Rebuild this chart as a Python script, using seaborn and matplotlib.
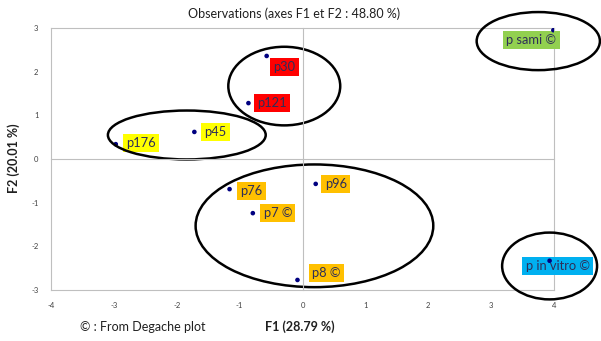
import matplotlib
matplotlib.use("Agg")
import matplotlib.pyplot as plt
from matplotlib.patches import Ellipse
import seaborn as sns
import pandas as pd

# PCA observation scores on the first two factors
names = ["p sami \u00a9", "p30", "p121", "p45", "p176", "p76", "p7 \u00a9", "p96", "p8 \u00a9", "p in vitro \u00a9"]
f1 = [3.99, -0.57, -0.86, -1.72, -2.97, -1.16, -0.79, 0.21, -0.08, 3.93]
f2 = [2.95, 2.36, 1.28, 0.62, 0.34, -0.69, -1.24, -0.57, -2.77, -2.33]
groups = ["sami", "red", "red", "yellow", "yellow", "orange", "orange", "orange", "orange", "vitro"]

x_ticks = [-4, -3, -2, -1, 0, 1, 2, 3, 4]
y_ticks = [-3, -2, -1, 0, 1, 2, 3]

title = "Observations (axes F1 et F2 : 48.80 %)"
x_label = "F1 (28.79 %)"
y_label = "F2 (20.01 %)"
footnote = "\u00a9 : From Degache plot"

group_colors = {"sami": "#92d050", "red": "#ff0000", "yellow": "#ffff00",
                "orange": "#ffc000", "vitro": "#00b0f0"}

# label box offsets (pixels) relative to each point
label_offsets = {
    "p sami \u00a9": (-22, -10), "p30": (18, -11), "p121": (24, 0), "p45": (21, 0),
    "p176": (25, 1), "p76": (22, -2), "p7 \u00a9": (25, 0), "p96": (20, 0),
    "p8 \u00a9": (29, 7), "p in vitro \u00a9": (8, -5),
}

# hand-drawn group outlines: (cx, cy, width, height, angle)
outlines = [
    (-0.29, 1.67, 1.78, 1.80, 0),
    (-1.84, 0.55, 2.51, 1.12, 0),
    (0.19, -1.53, 3.78, 2.81, 0),
    (3.75, 2.70, 1.96, 1.33, 0),
    (3.93, -2.45, 1.51, 1.53, 0),
]

df = pd.DataFrame({"name": names, "F1": f1, "F2": f2, "group": groups})

sns.set_style("white")
plt.rcParams["font.family"] = ["Lato", "DejaVu Sans"]
plt.rcParams["axes.unicode_minus"] = False

fig = plt.figure(figsize=(6.01, 3.41), dpi=100)
ax = fig.add_axes([51 / 601, 1 - 290 / 341, 503 / 601, 262 / 341])

sns.scatterplot(data=df, x="F1", y="F2", ax=ax, color="#000080", s=11,
                edgecolor="none", zorder=5, legend=False)

ax.set_xlim(-4, 4)
ax.set_ylim(-3, 3)
ax.set_xticks(x_ticks)
ax.set_yticks(y_ticks)
ax.set_xticklabels([str(t) for t in x_ticks])
ax.set_yticklabels([str(t) for t in y_ticks])
ax.tick_params(length=0, labelsize=5.5, labelcolor="#404040", pad=9)
ax.set_xlabel("")
ax.set_ylabel("")
for sp in ax.spines.values():
    sp.set_color("#bfbfbf")
    sp.set_linewidth(0.8)

# axis lines through the origin with their tick marks
ax0 = fig.add_axes(ax.get_position(), sharex=ax, sharey=ax, frameon=True)
ax0.patch.set_visible(False)
ax0.spines["left"].set_position(("data", 0))
ax0.spines["bottom"].set_position(("data", 0))
ax0.spines["top"].set_visible(False)
ax0.spines["right"].set_visible(False)
for s in ("left", "bottom"):
    ax0.spines[s].set_color("#bfbfbf")
    ax0.spines[s].set_linewidth(0.8)
ax0.tick_params(direction="inout", length=4, width=0.8, color="#bfbfbf",
                labelleft=False, labelbottom=False)
ax0.set_xlabel("")
ax0.set_ylabel("")

for name, x, y, g in zip(df["name"], df["F1"], df["F2"], df["group"]):
    dx, dy = label_offsets[name]
    ax.annotate(name, (x, y), xytext=(dx, dy), textcoords="offset pixels",
                ha="center", va="center", fontsize=9.3, color="#2e2e58",
                bbox=dict(boxstyle="square,pad=0.25", fc=group_colors[g], ec="none"),
                zorder=4)

for cx, cy, w, h, a in outlines:
    ax.add_patch(Ellipse((cx, cy), w, h, angle=a, fill=False, ec="black",
                         lw=1.8, clip_on=False, zorder=6))

fig.text(294 / 601, 1 - 14 / 341, title, ha="center", va="center", fontsize=9, color="#202020")
fig.text(300 / 601, 1 - 327 / 341, x_label, ha="center", va="center", fontsize=9,
         fontweight="bold", color="#202020")
fig.text(14 / 601, 1 - 158 / 341, y_label, ha="center", va="center", rotation=90,
         fontsize=9, fontweight="bold", color="#202020")
fig.text(80 / 601, 1 - 327 / 341, footnote, ha="left", va="center", fontsize=9, color="#202020")

fig.savefig("out.png", dpi=100)
